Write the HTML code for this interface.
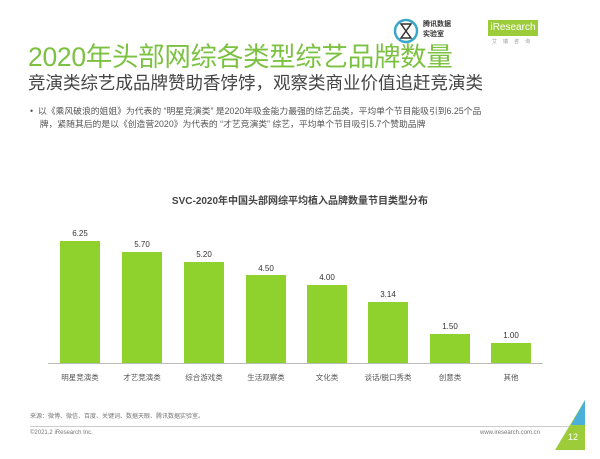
<!DOCTYPE html>
<html><head><meta charset="utf-8"><style>
body{margin:0;width:600px;height:459px;background:#fff;position:relative;overflow:hidden;font-family:"Liberation Sans","Noto Sans CJK SC",sans-serif}
.a{position:absolute;white-space:nowrap}
.bar{position:absolute;background:#8fd12d;width:40px}
.v{position:absolute;width:40px;text-align:center;font-size:8px;color:#333}
.c{position:absolute;width:62px;text-align:center;font-size:7.5px;color:#555}
</style></head><body>
<div class="a" style="left:28px;top:35px;font-size:26.5px;color:#7cc142;letter-spacing:-0.3px">2020年头部网综各类型综艺品牌数量</div>
<div class="a" style="left:28px;top:70px;font-size:17.5px;color:#444">竞演类综艺成品牌赞助香饽饽，观察类商业价值追赶竞演类</div>
<div class="a" style="left:30px;top:105px;font-size:8.8px;color:#555;line-height:13px">•&nbsp;&nbsp;以《乘风破浪的姐姐》为代表的 “明星竞演类” 是2020年吸金能力最强的综艺品类，平均单个节目能吸引到6.25个品<br>&nbsp;&nbsp;&nbsp;&nbsp;牌，紧随其后的是以《创造营2020》为代表的 “才艺竞演类” 综艺，平均单个节目吸引5.7个赞助品牌</div>
<svg class="a" style="left:393px;top:16px" width="26" height="30"><circle cx="13" cy="15" r="11" fill="none" stroke="#3aa6c9" stroke-width="2.5"/><path d="M8 8h10l-5 7 5 7H8l5-7z" fill="none" stroke="#333" stroke-width="1.5"/></svg>
<div class="a" style="left:423px;top:20px;font-size:7px;color:#333;line-height:10px;font-weight:bold">腾讯数据<br>实验室</div>
<div class="a" style="left:488px;top:20px;width:50px;height:16px;background:#9ccc3a;color:#fff;font-size:10px;line-height:16px;text-align:center">iResearch</div>
<div class="a" style="left:492px;top:38px;font-size:5px;color:#999;letter-spacing:6px">艾瑞咨询</div>
<div class="a" style="left:0;width:600px;top:192px;text-align:center;font-size:10px;font-weight:bold;color:#444">SVC-2020年中国头部网综平均植入品牌数量节目类型分布</div>
<div class="a" style="left:48px;top:363px;width:495px;height:1px;background:#bbb"></div>
<div class="bar" style="left:60px;top:241px;height:122px"></div><div class="v" style="left:60px;top:229px">6.25</div>
<div class="bar" style="left:122px;top:252px;height:111px"></div><div class="v" style="left:122px;top:240px">5.70</div>
<div class="bar" style="left:184px;top:262px;height:101px"></div><div class="v" style="left:184px;top:250px">5.20</div>
<div class="bar" style="left:246px;top:275px;height:88px"></div><div class="v" style="left:246px;top:264px">4.50</div>
<div class="bar" style="left:307px;top:285px;height:78px"></div><div class="v" style="left:307px;top:273px">4.00</div>
<div class="bar" style="left:368px;top:302px;height:61px"></div><div class="v" style="left:368px;top:290px">3.14</div>
<div class="bar" style="left:430px;top:334px;height:29px"></div><div class="v" style="left:430px;top:322px">1.50</div>
<div class="bar" style="left:491px;top:343px;height:20px"></div><div class="v" style="left:491px;top:331px">1.00</div>
<div class="c" style="left:49px;top:372px">明星竞演类</div>
<div class="c" style="left:111px;top:372px">才艺竞演类</div>
<div class="c" style="left:173px;top:372px">综合游戏类</div>
<div class="c" style="left:235px;top:372px">生活观察类</div>
<div class="c" style="left:296px;top:372px">文化类</div>
<div class="c" style="left:357px;top:372px">谈话/脱口秀类</div>
<div class="c" style="left:419px;top:372px">创意类</div>
<div class="c" style="left:480px;top:372px">其他</div>
<div class="a" style="left:30px;top:411px;font-size:6px;color:#777">来源：微博、微信、百度、关键词、数据天眼、腾讯数据实验室。</div>
<div class="a" style="left:30px;top:426px;width:546px;height:1px;background:#ccc"></div>
<div class="a" style="left:30px;top:430px;font-size:6px;color:#777">©2021.2 iResearch Inc.</div>
<div class="a" style="left:480px;top:430px;font-size:6px;color:#777">www.iresearch.com.cn</div>
<svg class="a" style="left:555px;top:400px" width="45" height="50"><polygon points="30,0 30,50 0,50" fill="#9ccc3a"/><polygon points="30,0 30,25 16,25" fill="#4ab0d9"/></svg>
<div class="a" style="left:568px;top:432px;font-size:9px;color:#fff">12</div>
</body></html>
